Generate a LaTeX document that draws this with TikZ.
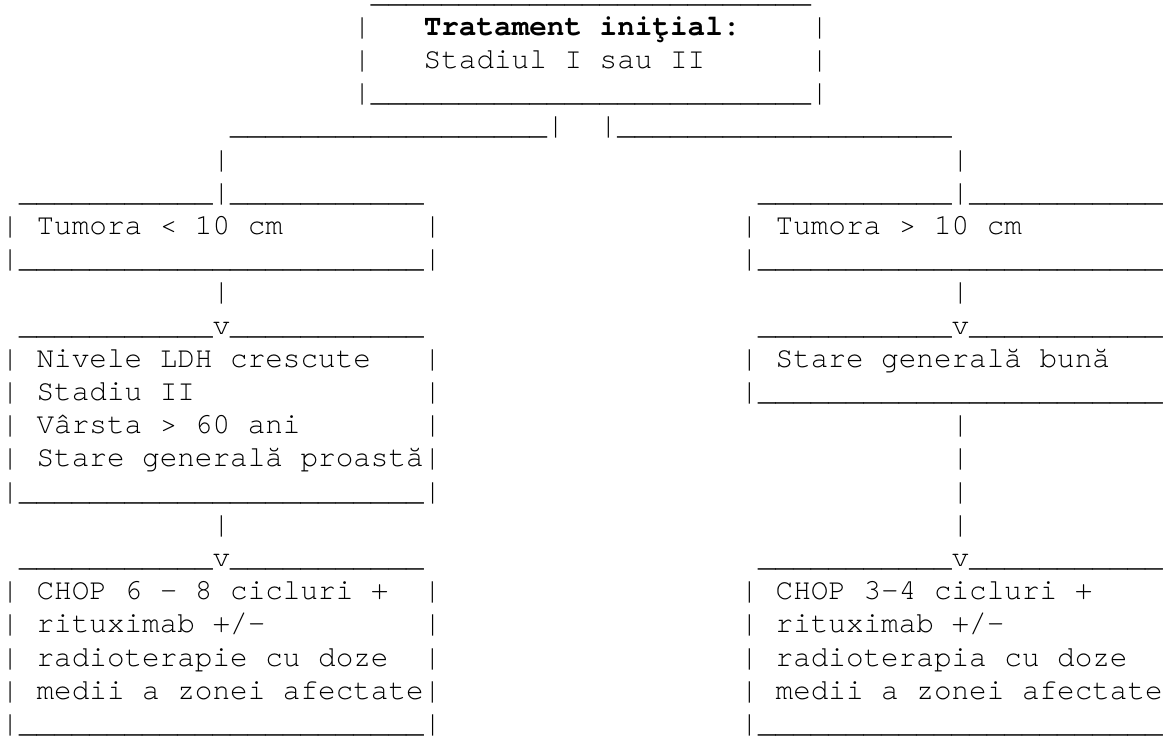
\documentclass[tikz,border=0pt]{standalone}
\usepackage{fontspec}
\newfontfamily\asciifont{texgyrecursor-regular.otf}[BoldFont=texgyrecursor-bold.otf]
\newlength{\cw}
\setlength{\cw}{7.2pt}
\newcommand{\blank}[1]{\hspace*{#1\cw}}
\newcommand{\lowbar}[1]{\foreach \k in {1,...,#1}{\_}}

\begin{document}
\begin{tikzpicture}[
    % GLOBAL CFG
    x=7.2pt,
    y=-13.584pt,
    % Styles
    ascii/.style={% one line of the chart, on its row
        anchor=base west,
        inner sep=0pt,
        outer sep=0pt,
        font=\asciifont\fontsize{12pt}{13.6pt}\selectfont,
        },
    ]

    % Page frame
    \path[use as bounding box] (0,0) ++(-0.6pt,0.86pt) rectangle ++(477.1pt,-303.2pt);

    % Draw the start box
    \node[ascii] (row0)  at (0,0)  {\blank{21}\lowbar{25}};
    \node[ascii] (row1)  at (0,1)  {\blank{20}|\blank{3}\textbf{Tratament iniţial:}\blank{4}|};
    \node[ascii] (row2)  at (0,2)  {\blank{20}|\blank{3}Stadiul I sau II\blank{6}|};
    \node[ascii] (row3)  at (0,3)  {\blank{20}|\lowbar{25}|};

    % Split in two branches
    \node[ascii] (row4)  at (0,4)  {\blank{13}\lowbar{18}|\blank{2}|\lowbar{19}};
    \node[ascii] (row5)  at (0,5)  {\blank{12}|\blank{41}|};

    % Tumour size boxes
    \node[ascii] (row6)  at (0,6)  {~\lowbar{11}|\lowbar{11}\blank{19}\lowbar{11}|\lowbar{11}};
    \node[ascii] (row7)  at (0,7)  {|~Tumora < 10 cm\blank{8}|\blank{17}|~Tumora > 10 cm};
    \node[ascii] (row8)  at (0,8)  {|\lowbar{23}|\blank{17}|\lowbar{23}};
    \node[ascii] (row9)  at (0,9)  {\blank{12}|\blank{41}|};

    % Risk factors boxes
    \node[ascii] (row10) at (0,10) {~\lowbar{11}v\lowbar{11}\blank{19}\lowbar{11}v\lowbar{11}};
    \node[ascii] (row11) at (0,11) {|~Nivele LDH crescute\blank{3}|\blank{17}|~Stare generală bună};
    \node[ascii] (row12) at (0,12) {|~Stadiu II\blank{13}|\blank{17}|\lowbar{23}};
    \node[ascii] (row13) at (0,13) {|~Vârsta > 60 ani\blank{7}|\blank{29}|};
    \node[ascii] (row14) at (0,14) {|~Stare generală proastă|\blank{29}|};
    \node[ascii] (row15) at (0,15) {|\lowbar{23}|\blank{29}|};
    \node[ascii] (row16) at (0,16) {\blank{12}|\blank{41}|};

    % Treatment boxes
    \node[ascii] (row17) at (0,17) {~\lowbar{11}v\lowbar{11}\blank{19}\lowbar{11}v\lowbar{11}};
    \node[ascii] (row18) at (0,18) {|~CHOP 6 - 8 cicluri +\blank{2}|\blank{17}|~CHOP 3-4 cicluri +};
    \node[ascii] (row19) at (0,19) {|~rituximab +/-\blank{9}|\blank{17}|~rituximab +/-};
    \node[ascii] (row20) at (0,20) {|~radioterapie cu doze\blank{2}|\blank{17}|~radioterapia cu doze};
    \node[ascii] (row21) at (0,21) {|~medii a zonei afectate|\blank{17}|~medii a zonei afectate};
    \node[ascii] (row22) at (0,22) {|\lowbar{23}|\blank{17}|\lowbar{23}};

\end{tikzpicture}
\end{document}
